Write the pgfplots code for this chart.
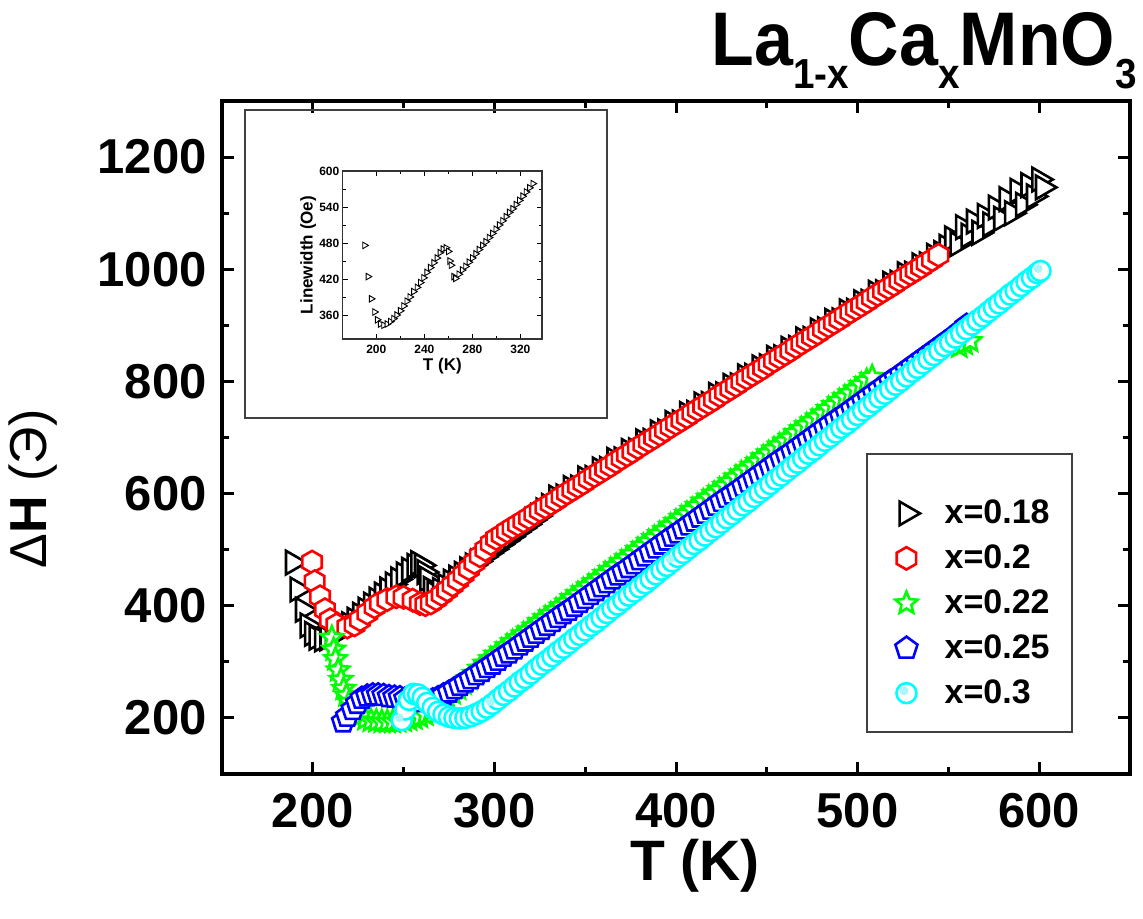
\documentclass[border=0pt]{standalone}
\usepackage{fontspec}
\setmainfont{Liberation Sans}
\usepackage{pgfplots}
\pgfplotsset{compat=1.18}
\usetikzlibrary{plotmarks}
\definecolor{cgreen}{RGB}{0,255,0}
\definecolor{ccyan}{RGB}{0,255,255}
\definecolor{clight}{RGB}{170,245,250}
\pgfdeclareplotmark{hexagon}{%
  \pgfpathmoveto{\pgfqpointpolar{90}{\pgfplotmarksize}}%
  \pgfpathlineto{\pgfqpointpolar{150}{\pgfplotmarksize}}%
  \pgfpathlineto{\pgfqpointpolar{210}{\pgfplotmarksize}}%
  \pgfpathlineto{\pgfqpointpolar{270}{\pgfplotmarksize}}%
  \pgfpathlineto{\pgfqpointpolar{330}{\pgfplotmarksize}}%
  \pgfpathlineto{\pgfqpointpolar{30}{\pgfplotmarksize}}%
  \pgfpathclose\pgfusepathqfillstroke}
\pgfdeclareplotmark{ostar}{%
  \pgfpathmoveto{\pgfqpointpolar{90}{\pgfplotmarksize}}%
  \pgfpathlineto{\pgfqpointpolar{126}{0.45\pgfplotmarksize}}%
  \pgfpathlineto{\pgfqpointpolar{162}{\pgfplotmarksize}}%
  \pgfpathlineto{\pgfqpointpolar{198}{0.45\pgfplotmarksize}}%
  \pgfpathlineto{\pgfqpointpolar{234}{\pgfplotmarksize}}%
  \pgfpathlineto{\pgfqpointpolar{270}{0.45\pgfplotmarksize}}%
  \pgfpathlineto{\pgfqpointpolar{306}{\pgfplotmarksize}}%
  \pgfpathlineto{\pgfqpointpolar{342}{0.45\pgfplotmarksize}}%
  \pgfpathlineto{\pgfqpointpolar{18}{\pgfplotmarksize}}%
  \pgfpathlineto{\pgfqpointpolar{54}{0.45\pgfplotmarksize}}%
  \pgfpathclose\pgfusepathqfillstroke}
\pgfdeclareplotmark{otri}{%
  \pgfpathmoveto{\pgfqpointpolar{0}{\pgfplotmarksize}}%
  \pgfpathlineto{\pgfqpointpolar{120}{\pgfplotmarksize}}%
  \pgfpathlineto{\pgfqpointpolar{240}{\pgfplotmarksize}}%
  \pgfpathclose\pgfusepathqfillstroke}
\pgfdeclareplotmark{opent}{%
  \pgfpathmoveto{\pgfqpointpolar{90}{\pgfplotmarksize}}%
  \pgfpathlineto{\pgfqpointpolar{162}{\pgfplotmarksize}}%
  \pgfpathlineto{\pgfqpointpolar{234}{\pgfplotmarksize}}%
  \pgfpathlineto{\pgfqpointpolar{306}{\pgfplotmarksize}}%
  \pgfpathlineto{\pgfqpointpolar{18}{\pgfplotmarksize}}%
  \pgfpathclose\pgfusepathqfillstroke}
\pgfdeclareplotmark{ocirc}{%
  \pgfpathcircle{\pgfpointorigin}{\pgfplotmarksize}%
  \pgfusepathqfillstroke}
\pgfdeclareplotmark{hcirc}{%
  \pgfpathcircle{\pgfpointorigin}{\pgfplotmarksize}%
  \pgfusepathqfillstroke
  \pgfpathcircle{\pgfqpoint{-1.2pt}{1.2pt}}{0.45\pgfplotmarksize}%
  \pgfsetfillcolor{clight}\pgfusepathqfill}
\pgfdeclareplotmark{hdot}{%
  \pgfpathcircle{\pgfqpoint{-1.2pt}{1.2pt}}{\pgfplotmarksize}%
  \pgfsetfillcolor{clight}\pgfusepathqfill}
\begin{document}
\begin{tikzpicture}
\begin{axis}[
  at={(0pt,0pt)}, anchor=south west,
  scale only axis, width=454pt, height=336.5pt,
  xmin=150, xmax=650, ymin=100, ymax=1300,
  xtick={200,300,400,500,600}, ytick={200,400,600,800,1000,1200},
  minor x tick num=1, minor y tick num=1,
  tick align=inside,
  major tick length=6pt, minor tick length=3.5pt,
  every tick/.style={line width=1.5pt, black},
  axis line style={line width=1.8pt},
  /pgf/number format/assume math mode=true,
  /pgf/number format/1000 sep={},
  ticklabel style={font=\fontsize{24.5}{24.5}\selectfont\bfseries, inner sep=0pt},
  xticklabel style={yshift=-9.5pt},
  yticklabel style={xshift=-7.5pt},
  xlabel={T (K)},
  xlabel style={at={(axis description cs:0.5209,-0.1367)}, anchor=center, font=\fontsize{28.5}{28.5}\selectfont\bfseries},
  ylabel={{\mdseries Δ}H {\mdseries (Э)}},
  ylabel style={at={(axis description cs:-0.2081,0.4235)}, anchor=center, font=\fontsize{26}{26}\selectfont\bfseries},
  legend cell align=left,
  legend image code/.code={\draw[#1] plot coordinates {(0pt,0pt)};},
  legend style={draw=none, fill=none, at={(axis description cs:0.7412,0.4077)}, anchor=north west,
    font=\fontsize{17}{17}\selectfont\bfseries, inner sep=0pt, row sep=9.1pt,
    nodes={inner sep=0pt}, /tikz/column sep=12.3pt},
]
\addplot[only marks, mark=otri, mark size=6.8pt, mark options={line width=1.3pt, draw=black, fill=white}] coordinates {
(189,477)(191.5,429)(194.5,393)(197,365)(199.5,350)(202,343)(205,340)(208,342)(211,346)(214,352)(217,359)(220,367)(223,375)(226,384)(229,393)(232,402)(235,411)(238,420)(241,429)(244,438)(247,447)(250,456)(253,464)(256,471)(258,476)(260,472)(261.5,460)(263,448)(265,430)(267,422)(270,428)(273,435)(276,443)(279,450)(282,457)(285,465)(288,472)(291,479)(294,487)(297,494)(300,501)(303,509)(306,516)(309,523)(312,531)(315,538)(318,545)(321,553)(324,560)(327,570)(330,578)(334,593)(338,595)(342,610)(346,611)(350,627)(354,628)(358,643)(362,644)(366,660)(370,661)(374,676)(378,677)(382,693)(386,694)(390,709)(394,711)(398,726)(402,727)(406,742)(410,744)(414,759)(418,760)(422,776)(426,777)(430,792)(434,793)(438,809)(442,810)(446,825)(450,827)(454,842)(458,843)(462,858)(466,860)(470,875)(474,876)(478,891)(482,893)(486,908)(490,909)(494,925)(498,926)(502,941)(506,942)(510,958)(514,959)(518,974)(522,976)(526,991)(530,992)(534,1007)(538,1009)(542,1024)(546,1029)(549,1040)(552,1055)(555,1045)(558,1075)(561,1060)(564,1085)(567,1065)(570,1095)(573,1080)(576,1110)(579,1090)(582,1125)(585,1100)(588,1140)(591,1115)(594,1150)(597,1130)(600,1160)(602,1146)
};
\addlegendentry{x=0.18}
\addplot[only marks, mark=hexagon, mark size=5.6pt, mark options={line width=1.3pt, draw=red, fill=white}] coordinates {
(199.6,478)(201,443)(204,416)(206.7,393)(209.5,375)(213,366)(219,362)(223,366)(226,375)(230,387)(234,398)(237,405)(241,411)(246,416)(250,415)(255,410)(259,404)(262,402)(265,405)(268,412)(271,420)(274,428)(277,437)(280,446)(283,456)(286,466)(289,477)(292,489)(295,500)(298,511)(301,520)(304,526)(307,533)(310,539)(313,545)(316,551)(319,557)(322,564)(325,570)(328,576)(331,582)(334,588)(337,595)(340,601)(343,607)(346,613)(349,619)(352,626)(355,632)(358,638)(361,644)(364,650)(367,657)(370,663)(373,669)(376,675)(379,682)(382,688)(385,694)(388,700)(391,706)(394,713)(397,719)(400,725)(403,731)(406,737)(409,744)(412,750)(415,756)(418,762)(421,768)(424,775)(427,781)(430,787)(433,793)(436,800)(439,806)(442,812)(445,818)(448,824)(451,831)(454,837)(457,843)(460,849)(463,855)(466,862)(469,868)(472,874)(475,880)(478,886)(481,893)(484,899)(487,905)(490,911)(493,918)(496,924)(499,930)(502,936)(505,942)(508,949)(511,955)(514,961)(517,967)(520,973)(523,980)(526,986)(529,992)(532,998)(535,1004)(538,1011)(541,1017)(544.5,1025)
};
\addlegendentry{x=0.2}
\addplot[only marks, mark=ostar, mark size=5.8pt, mark options={line width=1.3pt, draw=cgreen, fill=white}] coordinates {
(210.5,343)(211.5,322)(212.5,305)(214,285)(215.5,268)(217,252)(218.5,240)(220,228)(222,217)(224,209)(226,203)(229,198)(232,195)(235,194)(238,193)(241,193)(244,193)(247,194)(250,195)(253,197)(256,199)(259,202)(262,206)(265,212)(268,219)(271,227)(274,235)(277,244)(280,252)(283,261)(286,270)(289,279)(292,288)(295,297)(298,305)(301,313)(304,320)(307,328)(310,335)(313,342)(316,349)(319,356)(322,363)(325,371)(328,378)(331,385)(334,392)(337,399)(340,406)(343,414)(346,421)(349,428)(352,435)(355,442)(358,449)(361,457)(364,464)(367,471)(370,478)(373,485)(376,492)(379,500)(382,507)(385,514)(388,521)(391,528)(394,535)(397,543)(400,550)(403,557)(406,564)(409,571)(412,578)(415,586)(418,593)(421,600)(424,607)(427,614)(430,621)(433,629)(436,636)(439,643)(442,650)(445,657)(448,665)(451,672)(454,679)(457,686)(460,693)(463,700)(466,708)(469,715)(472,722)(475,729)(478,736)(481,743)(484,751)(487,758)(490,765)(493,772)(496,779)(499,786)(502,794)(505,801)(508,808)(556,862)(559,867)(562,872)
};
\addlegendentry{x=0.22}
\addplot[only marks, mark=opent, mark size=5.8pt, mark options={line width=1.3pt, draw=blue, fill=white}] coordinates {
(216.7,193)(219,203)(222,215)(224.5,226)(227,235)(230,239)(233,241)(236,241)(239,240)(242,238)(245,237)(248,236)(251,234)(254,232)(257,230)(260,229)(263,230)(266,232)(269,236)(272,241)(275,246)(278,252)(281,258)(284,264)(287,270)(290,277)(293,283)(296,290)(299,296)(302,303)(305,310)(308,316)(311,323)(314,330)(317,337)(320,344)(323,351)(326,358)(329,365)(332,372)(335,379)(338,386)(341,392)(344,399)(347,406)(350,413)(353,420)(356,427)(359,434)(362,441)(365,448)(368,455)(371,461)(374,468)(377,475)(380,482)(383,489)(386,496)(389,503)(392,510)(395,517)(398,524)(401,530)(404,537)(407,544)(410,551)(413,558)(416,565)(419,572)(422,579)(425,586)(428,593)(431,599)(434,606)(437,613)(440,620)(443,627)(446,634)(449,641)(452,648)(455,655)(458,662)(461,668)(464,675)(467,682)(470,689)(473,696)(476,703)(479,710)(482,717)(485,724)(488,731)(491,737)(494,744)(497,751)(500,758)(503,765)(506,772)(509,779)(512,786)(515,793)(518,800)(521,806)(524,813)(527,820)(530,827)(533,834)(536,841)(539,848)(542,855)(545,862)(548,869)(551,876)(554,883)(557,891)(560,900)
};
\addlegendentry{x=0.25}
\addplot[only marks, mark=ocirc, mark size=5pt, mark options={line width=1.3pt, draw=ccyan, fill=white},
  legend image code/.code={\draw[mark=hcirc, mark size=5pt, mark options={line width=1.3pt, draw=ccyan, fill=white}] plot coordinates {(0pt,0pt)};}] coordinates {
(249,196)(251,215)(253,232)(255.5,243)(258,242)(260.5,236)(263,227)(266,218)(269,211)(272,206)(275,202)(278,200)(281,199)(284,200)(287,203)(290,207)(293,212)(296,218)(299,225)(302,233)(305,241)(308,248)(311,256)(314,264)(317,271)(320,279)(323,287)(326,295)(329,302)(332,310)(335,318)(338,325)(341,333)(344,341)(347,348)(350,356)(353,364)(356,371)(359,379)(362,387)(365,395)(368,402)(371,410)(374,418)(377,425)(380,433)(383,440)(386,448)(389,456)(392,464)(395,471)(398,479)(401,487)(404,494)(407,502)(410,510)(413,517)(416,525)(419,533)(422,540)(425,548)(428,556)(431,563)(434,571)(437,579)(440,586)(443,594)(446,602)(449,609)(452,617)(455,625)(458,632)(461,640)(464,648)(467,655)(470,663)(473,671)(476,678)(479,686)(482,694)(485,701)(488,709)(491,717)(494,724)(497,732)(500,740)(503,748)(506,755)(509,763)(512,771)(515,778)(518,786)(521,794)(524,801)(527,809)(530,817)(533,824)(536,832)(539,840)(542,847)(545,855)(548,863)(551,870)(554,878)(557,886)(560,893)(563,901)(566,909)(569,916)(572,924)(575,932)(578,939)(581,947)(584,955)(587,962)(590,970)(593,978)(596,985)(599,993)(600.7,997)
};
\addlegendentry{x=0.3}
\addplot[only marks, forget plot, mark=hdot, mark size=2.2pt] coordinates {
(249,196)(299,225)(398,479)(600.7,997)
};
\end{axis}
% legend frame and inset frame
\draw[line width=0.7pt, black!75] (322.5pt,21pt) rectangle (425pt,160pt);
\draw[line width=0.7pt, black!75] (11.5pt,178pt) rectangle (192.5pt,332pt);
% inset
\begin{axis}[
  at={(60.35pt,217.5pt)}, anchor=south west,
  scale only axis, width=99.65pt, height=84pt,
  xmin=172, xmax=338, ymin=320, ymax=600,
  xtick={200,240,280,320}, ytick={360,420,480,540,600},
  minor x tick num=1, minor y tick num=1,
  tick align=inside,
  major tick length=2.5pt, minor tick length=1.4pt,
  every tick/.style={line width=0.5pt, black},
  axis line style={line width=0.6pt, black!80},
  /pgf/number format/assume math mode=true,
  ticklabel style={font=\fontsize{6}{6}\selectfont\bfseries, inner sep=0pt},
  xticklabel style={yshift=-3pt},
  yticklabel style={xshift=-1.5pt},
  xlabel={T (K)},
  xlabel style={at={(axis description cs:0.5,-0.164)}, anchor=center, font=\fontsize{8.5}{8.5}\selectfont\bfseries},
  ylabel={Linewidth (Oe)},
  ylabel style={at={(axis description cs:-0.1736,0.5)}, anchor=center, font=\fontsize{8.5}{8.5}\selectfont\bfseries},
]
\addplot[only marks, mark=otri, mark size=1.9pt, mark options={line width=0.45pt, draw=black, fill=white}] coordinates {
(190.3,476)(193.1,424)(195.8,387)(198.6,365)(200.8,352)(203.3,345)(206.1,343)(208.9,345)(211.7,349)(214.4,354)(217,360)(220,367)(222.8,375)(225.5,383)(228,390)(231,399)(234,406)(236.7,414)(239.4,422)(242,431)(245,439)(247.8,447)(250.5,455)(253,464)(255.5,470)(258,472)(260,466)(261.2,450)(262.3,443)(264.5,424)(266,421)(268.8,428)(271.6,435)(274.4,441)(277.2,448)(280,455)(282.8,462)(285.6,469)(288.4,476)(291.2,482)(294,489)(296.8,496)(299.6,503)(302.4,510)(305.2,517)(308,524)(310.8,531)(313.6,537)(316.4,544)(319.2,551)(322,558)(324.8,565)(327.6,572)(330.4,579)
};
\end{axis}
% title
\node[anchor=base east, inner sep=0pt] at (457.5pt,354.5pt) {\scalebox{0.92}[1]{\fontsize{38}{38}\selectfont\bfseries La\raisebox{-11.5pt}{\fontsize{21}{21}\selectfont 1-x}Ca\raisebox{-11.5pt}{\fontsize{21}{21}\selectfont x}MnO\raisebox{-11.5pt}{\fontsize{21}{21}\selectfont 3}}};
\pgfresetboundingbox
\path[use as bounding box] (-111pt,-72pt) rectangle (460.5pt,387pt);
\end{tikzpicture}
\end{document}
